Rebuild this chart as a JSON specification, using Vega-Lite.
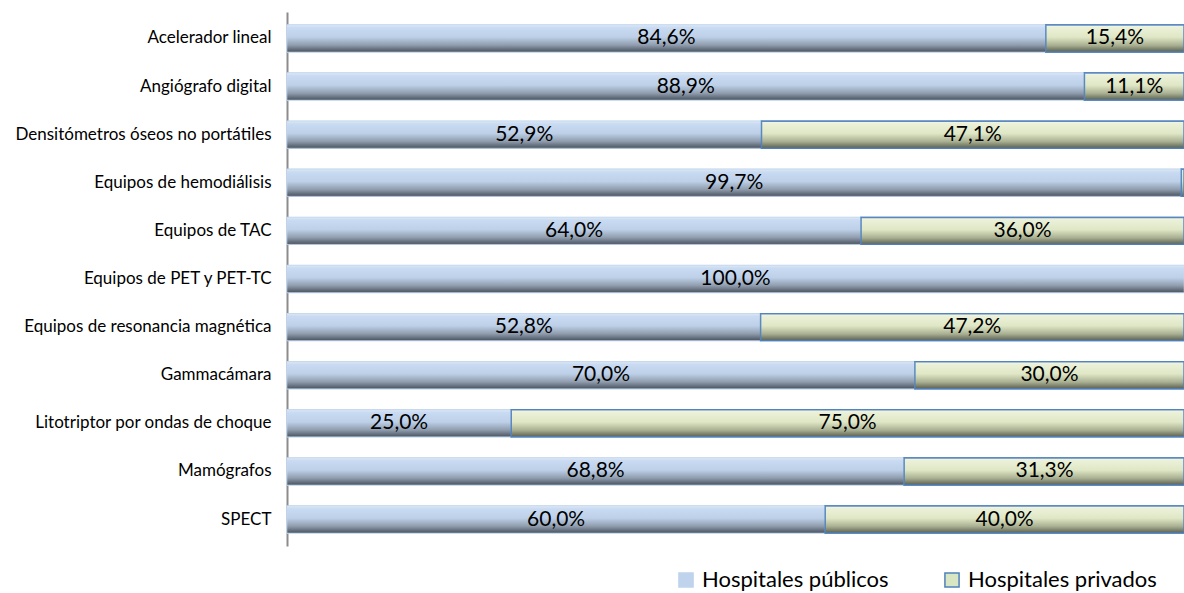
{
  "$schema": "https://vega.github.io/schema/vega-lite/v6.json",
  "width": 897,
  "height": 534,
  "autosize": {"type": "none"},
  "padding": {"left": 287, "top": 12, "right": 0, "bottom": 47},
  "background": "white",
  "config": {"view": {"stroke": null}, "font": "Lato"},
  "data": {
    "values": [
      {"cat": "Acelerador lineal", "type": "Hospitales públicos", "value": 84.6},
      {"cat": "Acelerador lineal", "type": "Hospitales privados", "value": 15.4},
      {"cat": "Angiógrafo digital", "type": "Hospitales públicos", "value": 88.9},
      {"cat": "Angiógrafo digital", "type": "Hospitales privados", "value": 11.1},
      {"cat": "Densitómetros óseos no portátiles", "type": "Hospitales públicos", "value": 52.9},
      {"cat": "Densitómetros óseos no portátiles", "type": "Hospitales privados", "value": 47.1},
      {"cat": "Equipos de hemodiálisis", "type": "Hospitales públicos", "value": 99.7},
      {"cat": "Equipos de hemodiálisis", "type": "Hospitales privados", "value": 0.3},
      {"cat": "Equipos de TAC", "type": "Hospitales públicos", "value": 64.0},
      {"cat": "Equipos de TAC", "type": "Hospitales privados", "value": 36.0},
      {"cat": "Equipos de PET y PET-TC", "type": "Hospitales públicos", "value": 100.0},
      {"cat": "Equipos de resonancia magnética", "type": "Hospitales públicos", "value": 52.8},
      {"cat": "Equipos de resonancia magnética", "type": "Hospitales privados", "value": 47.2},
      {"cat": "Gammacámara", "type": "Hospitales públicos", "value": 70.0},
      {"cat": "Gammacámara", "type": "Hospitales privados", "value": 30.0},
      {"cat": "Litotriptor por ondas de choque", "type": "Hospitales públicos", "value": 25.0},
      {"cat": "Litotriptor por ondas de choque", "type": "Hospitales privados", "value": 75.0},
      {"cat": "Mamógrafos", "type": "Hospitales públicos", "value": 68.8},
      {"cat": "Mamógrafos", "type": "Hospitales privados", "value": 31.3},
      {"cat": "SPECT", "type": "Hospitales públicos", "value": 60.0},
      {"cat": "SPECT", "type": "Hospitales privados", "value": 40.0}
    ]
  },
  "transform": [
    {"stack": "value", "groupby": ["cat"], "sort": [{"field": "type", "order": "descending"}], "as": ["v0", "v1"]},
    {"calculate": "(datum.v0 + datum.v1) / 2", "as": "mid"},
    {"calculate": "replace(format(datum.value, '.1f'), '.', ',') + '%'", "as": "label"}
  ],
  "encoding": {
    "y": {
      "field": "cat", "type": "nominal", "sort": null,
      "scale": {"paddingInner": 0.44, "paddingOuter": 0.27},
      "axis": {"title": null, "ticks": false, "labelPadding": 16, "labelFontSize": 17, "labelLimit": 300, "labelColor": "#000000", "labelFont": "Lato", "domainColor": "#8c8c8c", "domainWidth": 2}
    }
  },
  "layer": [
    {
      "mark": {"type": "bar", "strokeWidth": 1.5},
      "encoding": {
        "x": {"field": "v0", "type": "quantitative", "scale": {"domain": [0, 100], "clamp": true, "nice": false}, "axis": null},
        "x2": {"field": "v1"},
        "color": {
          "field": "type", "type": "nominal",
          "scale": {"domain": ["Hospitales públicos", "Hospitales privados"], "range": ["#bfd3ec", "#d9e6c3"]},
          "legend": {
            "title": null, "orient": "none", "direction": "horizontal",
            "legendX": 388, "legendY": 557,
            "symbolType": "square", "symbolSize": 200, "symbolOpacity": 1,
            "labelFontSize": 22, "labelFont": "Lato", "labelColor": "#000000", "labelLimit": 400,
            "columnPadding": 52, "labelOffset": 5
          }
        },
        "stroke": {
          "field": "type", "type": "nominal",
          "scale": {"domain": ["Hospitales públicos", "Hospitales privados"], "range": ["#bfd3ec", "#4f81bd"]},
          "legend": {
            "title": null, "orient": "none", "direction": "horizontal",
            "legendX": 388, "legendY": 557,
            "symbolType": "square", "symbolSize": 200,
            "labelFontSize": 22, "labelFont": "Lato", "labelColor": "#000000", "labelLimit": 400,
            "columnPadding": 52, "labelOffset": 5
          }
        }
      }
    },
    {
      "transform": [{"filter": "datum.type == 'Hospitales públicos'"}],
      "mark": {
        "type": "bar",
        "fill": {
          "gradient": "linear", "x1": 0, "y1": 0, "x2": 0, "y2": 1,
          "stops": [
            {"offset": 0, "color": "#dde7f3"},
            {"offset": 0.1, "color": "#c9dbf2"},
            {"offset": 0.45, "color": "#bdd0e8"},
            {"offset": 0.75, "color": "#8f9cad"},
            {"offset": 1, "color": "#4a5360"}
          ]
        },
        "stroke": "#c9dbf2", "strokeWidth": 0.5
      },
      "encoding": {
        "x": {"field": "v0", "type": "quantitative"},
        "x2": {"field": "v1"}
      }
    },
    {
      "transform": [{"filter": "datum.type == 'Hospitales privados'"}],
      "mark": {
        "type": "bar",
        "fill": {
          "gradient": "linear", "x1": 0, "y1": 0, "x2": 0, "y2": 1,
          "stops": [
            {"offset": 0, "color": "#f3f6e8"},
            {"offset": 0.1, "color": "#ebf1d8"},
            {"offset": 0.45, "color": "#dfe7c6"},
            {"offset": 0.75, "color": "#aab193"},
            {"offset": 1, "color": "#5b604f"}
          ]
        },
        "stroke": "#4f81bd", "strokeWidth": 1.5, "strokeOpacity": 0.9
      },
      "encoding": {
        "x": {"field": "v0", "type": "quantitative"},
        "x2": {"field": "v1"}
      }
    },
    {
      "transform": [{"filter": "datum.value >= 1"}],
      "mark": {"type": "text", "fontSize": 21, "font": "Lato", "color": "#000000", "baseline": "middle", "align": "center"},
      "encoding": {
        "x": {"field": "mid", "type": "quantitative"},
        "text": {"field": "label", "type": "nominal"}
      }
    }
  ]
}
